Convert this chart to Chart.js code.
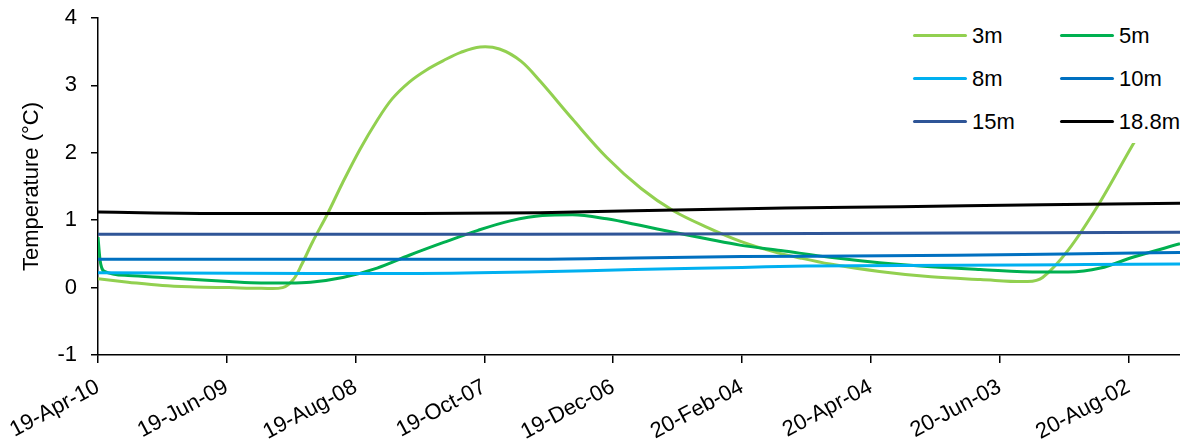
<!DOCTYPE html>
<html>
<head>
<meta charset="utf-8">
<script src="https://cdn.jsdelivr.net/npm/chart.js@4"></script>
<style>
    body { margin: 0; background: #fff; }
    .wrap { position: relative; width: 1180px; height: 445px; }
    .legend {
        position: absolute; left: 900px; top: 14px; width: 280px; height: 129px;
        background: #fff; display: grid; grid-template-columns: 147px 120px;
        grid-auto-rows: 43px; padding-left: 13px; box-sizing: border-box;
        font-family: "Liberation Sans", Arial, sans-serif; font-size: 22px; color: #000;
    }
    .legend .item { display: flex; align-items: center; }
    .legend .swatch { width: 54px; height: 3px; border-radius: 2px; margin-right: 5px; }
</style>
</head>
<body>
<div class="wrap">
    <canvas id="tempChart" width="1180" height="445"></canvas>
    <div class="legend" id="legend"></div>
</div>
<script>
// Tick labels (one every 60 days, starting 19-Apr-10)
const tickLabels = ['19-Apr-10', '19-Jun-09', '19-Aug-08', '19-Oct-07', '19-Dec-06',
    '20-Feb-04', '20-Apr-04', '20-Jun-03', '20-Aug-02'];
const seriesNames = ['3m', '5m', '8m', '10m', '15m', '18.8m'];
const seriesColors = ['#92D050', '#00B050', '#00B0F0', '#0070C0', '#2F5597', '#000000'];

// days since first tick, temperature in °C
const days3m = [0, 14, 30, 45, 61, 76, 86, 91, 95, 100, 107, 114, 122, 130, 137, 145, 153, 161, 169, 178, 187,
    197, 206, 221, 237, 253, 268, 284, 299, 315, 327, 341, 364, 388, 411, 433, 440, 452, 466, 482, 504];
const temp3m = [0.13, 0.08, 0.03, 0.01, 0.0, -0.01, 0.0, 0.12, 0.35, 0.68, 1.1, 1.56, 2.05, 2.48, 2.8, 3.05, 3.23, 3.37, 3.49, 3.57, 3.54,
    3.36, 3.06, 2.5, 1.93, 1.47, 1.14, 0.89, 0.69, 0.53, 0.44, 0.35, 0.24, 0.16, 0.12, 0.09, 0.15, 0.56, 1.23, 2.12, 3.3];

const days5m = [0, 1, 3, 14, 30, 45, 61, 76, 89, 99, 114, 130, 145, 161, 177, 192, 207, 221, 237, 253,
    268, 284, 299, 318, 341, 364, 388, 411, 439, 452, 467, 482, 504];
const temp5m = [0.75, 0.4, 0.24, 0.18, 0.15, 0.12, 0.09, 0.07, 0.07, 0.08, 0.15, 0.29, 0.48, 0.67, 0.85, 0.99, 1.07, 1.08, 1.02, 0.92,
    0.82, 0.72, 0.63, 0.55, 0.45, 0.37, 0.31, 0.27, 0.23, 0.23, 0.29, 0.45, 0.65];

const days8m = [0, 100, 150, 200, 250, 300, 330, 400, 450, 504];
const temp8m = [0.22, 0.21, 0.21, 0.23, 0.27, 0.30, 0.32, 0.33, 0.34, 0.35];

const days10m = [0, 100, 200, 250, 300, 350, 400, 450, 504];
const temp10m = [0.42, 0.42, 0.42, 0.44, 0.46, 0.47, 0.48, 0.5, 0.52];

const days15m = [0, 100, 200, 300, 400, 504];
const temp15m = [0.79, 0.79, 0.79, 0.8, 0.81, 0.82];

const days188m = [0, 60, 150, 206, 250, 320, 374, 440, 504];
const temp188m = [1.12, 1.1, 1.1, 1.11, 1.14, 1.18, 1.2, 1.23, 1.25];

const allDays = [days3m, days5m, days8m, days10m, days15m, days188m];
const allTemps = [temp3m, temp5m, temp8m, temp10m, temp15m, temp188m];

const FONT = '"Liberation Sans", Arial, sans-serif';

const datasets = seriesNames.map((name, i) => ({
    label: name,
    data: allDays[i].map((d, j) => ({ x: d, y: allTemps[i][j] })),
    borderColor: seriesColors[i],
    backgroundColor: seriesColors[i],
    borderWidth: 3,
    pointRadius: 0,
    // 3m gets a plain spline so the peak stays round; the rest stay monotone
    cubicInterpolationMode: i === 0 ? 'default' : 'monotone',
    tension: i === 0 ? 0.35 : 0,
    fill: false,
    order: seriesNames.length - i   // later series drawn on top, like the original
}));

new Chart(document.getElementById('tempChart'), {
    type: 'line',
    data: { datasets: datasets },
    options: {
        responsive: false,
        animation: false,
        devicePixelRatio: 1,
        layout: { padding: { top: 18, right: 0, bottom: 0, left: 0 } },
        plugins: { legend: { display: false }, tooltip: { enabled: false } },
        scales: {
            x: {
                type: 'linear',
                min: 0,
                max: 504,
                afterFit: s => { s.height = 90; s.paddingLeft = 0; s.paddingRight = 0; },
                border: { color: '#000', width: 1.5 },
                grid: { drawOnChartArea: false, color: '#000', lineWidth: 1.5, tickLength: 8 },
                ticks: {
                    stepSize: 60,
                    includeBounds: false,
                    autoSkip: false,
                    minRotation: 28,
                    maxRotation: 28,
                    padding: 11,
                    color: '#000',
                    font: { family: FONT, size: 22 },
                    callback: v => tickLabels[Math.round(v / 60)] || ''
                }
            },
            y: {
                min: -1,
                max: 4,
                afterFit: s => { s.width = 98; s.paddingTop = 0; s.paddingBottom = 0; },
                border: { color: '#000', width: 1.5 },
                grid: { drawOnChartArea: false, color: '#000', lineWidth: 1.5, tickLength: 7 },
                ticks: {
                    stepSize: 1,
                    padding: 14,
                    color: '#000',
                    font: { family: FONT, size: 22 }
                },
                title: {
                    display: true,
                    text: 'Temperature (°C)',
                    color: '#000',
                    font: { family: FONT, size: 22 },
                    padding: { top: 19, bottom: 0 }
                }
            }
        }
    }
});

// HTML legend, two columns, sitting on top of the plot area
const legend = document.getElementById('legend');
seriesNames.forEach((name, i) => {
    const item = document.createElement('div');
    item.className = 'item';
    item.innerHTML = `<span class="swatch" style="background:${seriesColors[i]}"></span><span>${name}</span>`;
    legend.appendChild(item);
});
</script>
</body>
</html>
